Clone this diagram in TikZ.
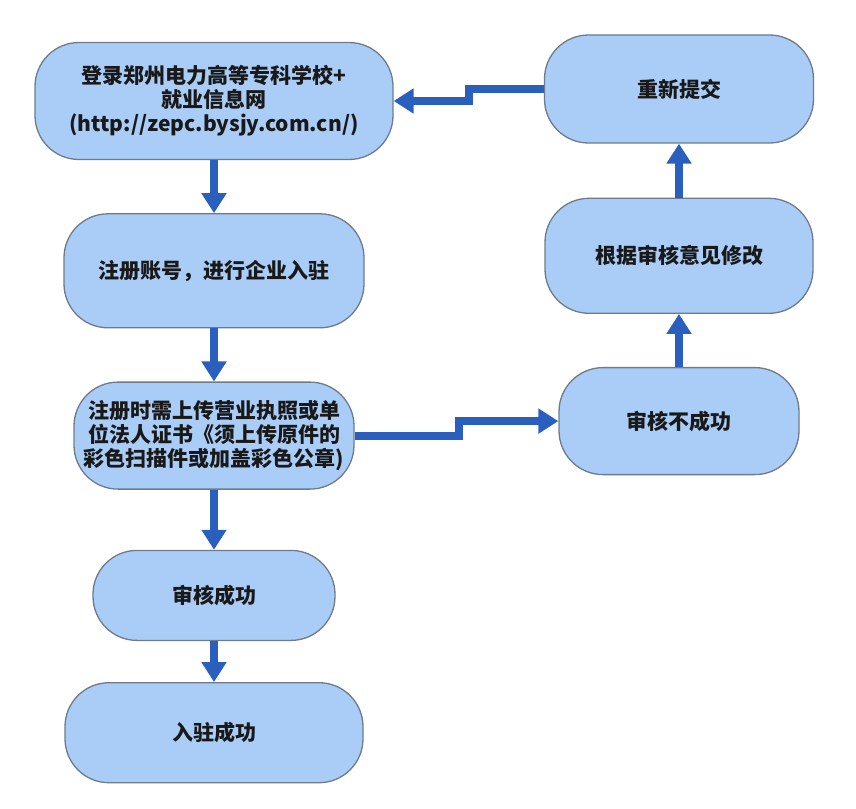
\documentclass[tikz,border=0pt]{standalone}
\usepackage{fontspec}
\newfontfamily\cjk{Noto Sans CJK SC}
\usetikzlibrary{arrows.meta,positioning}
\definecolor{boxfill}{HTML}{AACDF8}
\definecolor{boxline}{HTML}{6E7B8A}
\definecolor{flowblue}{HTML}{2B5FBE}

\begin{document}
\begin{tikzpicture}[x=1pt,y=1pt,node distance=53pt,
    stepbox/.style={draw=boxline,line width=1.3pt,fill=boxfill,rounded corners=44pt,align=center,inner sep=1pt,text=black!90,font=\cjk\bfseries\fontsize{21}{24}\selectfont},
    flow/.style={draw=flowblue,line width=8pt,-{Triangle[length=20pt,width=24pt]}}]
      \useasboundingbox (0,0) rectangle (856,-808);
      % left column
      \node[stepbox,minimum width=358pt,minimum height=117pt] (login) at (214,-101) {登录郑州电力高等专科学校+\\就业信息网\\(http://zepc.bysjy.com.cn/)};
      \node[stepbox,minimum width=300pt,minimum height=114pt,below=of login] (register) {注册账号，进行企业入驻};
      \node[stepbox,minimum width=280pt,minimum height=107pt,below=of register] (upload) {注册时需上传营业执照或单\\位法人证书《须上传原件的\\彩色扫描件或加盖彩色公章)};
      \node[stepbox,minimum width=242pt,minimum height=90pt,below=60pt of upload] (pass) {审核成功};
      \node[stepbox,minimum width=298pt,minimum height=100pt,below=41pt of pass] (done) {入驻成功};
      % right column
      \node[stepbox,minimum width=269pt,minimum height=108pt] (redo) at (679,-89) {重新提交};
      \node[stepbox,minimum width=268pt,minimum height=115pt,below=54pt of redo] (revise) {根据审核意见修改};
      \node[stepbox,minimum width=240pt,minimum height=107pt,below=of revise] (fail) {审核不成功};
      \draw[flow] (login)--(register); \draw[flow] (register)--(upload); \draw[flow] (upload)--(pass); \draw[flow] (pass)--(done);
      \draw[flow] (upload.east) -- ++(104,0) |- (fail.west);
      \draw[flow] (fail)--(revise); \draw[flow] (revise)--(redo);
      \draw[flow] (redo.west) -- ++(-75,0) |- (login.east);
    \end{tikzpicture}
\end{document}
